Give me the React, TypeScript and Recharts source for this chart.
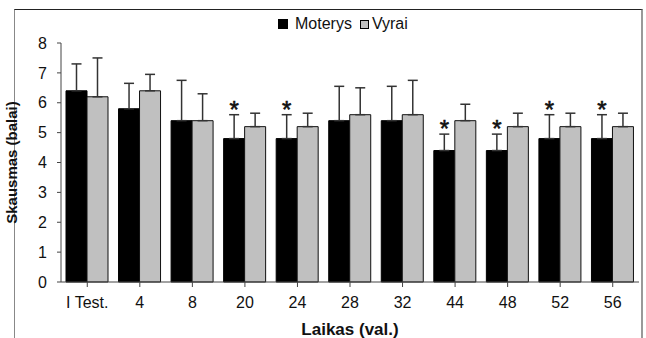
import { Bar, ComposedChart, ErrorBar, LabelList, Legend, XAxis, YAxis } from "recharts"

// Values
const categories = ["I Test.", "4", "8", "20", "24", "28", "32", "44", "48", "52", "56"]
const moterys = [6.4, 5.8, 5.4, 4.8, 4.8, 5.4, 5.4, 4.4, 4.4, 4.8, 4.8]
const moterysErr = [0.9, 0.85, 1.35, 0.8, 0.8, 1.15, 1.15, 0.55, 0.55, 0.8, 0.8]
const vyrai = [6.2, 6.4, 5.4, 5.2, 5.2, 5.6, 5.6, 5.4, 5.2, 5.2, 5.2]
const vyraiErr = [1.3, 0.55, 0.9, 0.45, 0.45, 0.9, 1.15, 0.55, 0.45, 0.45, 0.45]
// significant difference marker (*) over the Moterys bar
const significant = [false, false, false, true, true, false, false, true, true, true, true]
const yTicks = [0, 1, 2, 3, 4, 5, 6, 7, 8]

const data = categories.map((c, i) => ({
  name: c,
  moterys: moterys[i],
  moterysErr: [0, moterysErr[i]],
  vyrai: vyrai[i],
  vyraiErr: [0, vyraiErr[i]],
}))

const font = "'Liberation Sans', Arial, sans-serif"

// asterisk drawn just above the error bar cap
const Star = (props: any) => {
  const { x, y, width, height, index } = props
  if (!significant[index]) return null
  const perUnit = height / moterys[index]
  const top = y - moterysErr[index] * perUnit
  return (
    <text x={x + width / 2} y={top + 3} textAnchor="middle" fontSize={24} fontFamily={font} fill="#111" stroke="#111" strokeWidth={0.6}>
      *
    </text>
  )
}

const LegendBox = () => (
  <div style={{ display: "flex", alignItems: "center", fontFamily: font, fontSize: 16, color: "#111", height: 20, paddingLeft: 278 }}>
    <span style={{ width: 8, height: 8, background: "#000", border: "1px solid #000", marginRight: 7 }} />
    <span style={{ marginRight: 8 }}>Moterys</span>
    <span style={{ width: 7, height: 7, background: "#c0c0c0", border: "1px solid #000", marginRight: 3 }} />
    <span>Vyrai</span>
  </div>
)

export default function App() {
  return (
    <div style={{ position: "fixed", left: 0, top: 0, width: 646, height: 338, background: "#fff", overflow: "hidden" }}>
      <div
        style={{
          position: "absolute",
          left: 14,
          top: 9,
          width: 626,
          height: 340,
          borderTop: "1px solid #222",
          borderLeft: "1px solid #888",
          borderRight: "2px solid #999",
        }}
      />
      <ComposedChart
        width={646}
        height={338}
        data={data}
        margin={{ top: 23, right: 7, left: 0, bottom: 0 }}
        barGap={0}
        barCategoryGap={6}
        style={{ position: "absolute", left: 0, top: 0 }}
      >
        <Legend verticalAlign="top" height={20} content={<LegendBox />} wrapperStyle={{ top: 14, left: 0 }} />
        <XAxis
          dataKey="name"
          height={56}
          tickSize={5}
          tickMargin={10}
          stroke="#444"
          tick={{ fill: "#111", fontSize: 16, fontFamily: font }}
          interval={0}
          label={{ value: "Laikas (val.)", position: "insideBottom", offset: 3, fill: "#111", fontSize: 17, fontWeight: "bold", fontFamily: font }}
        />
        <YAxis
          width={61}
          domain={[0, 8]}
          ticks={yTicks}
          tickSize={4}
          tickMargin={10}
          stroke="#444"
          tick={{ fill: "#111", fontSize: 16, fontFamily: font }}
          label={{ value: "Skausmas (balai)", angle: -90, position: "insideLeft", offset: 12, style: { textAnchor: "middle" }, fill: "#111", fontSize: 15, fontWeight: "bold", fontFamily: font }}
        />
        <Bar dataKey="moterys" name="Moterys" fill="#000" stroke="#000" barSize={21} isAnimationActive={false}>
          <ErrorBar dataKey="moterysErr" direction="y" width={5} stroke="#333" strokeWidth={1.5} />
          <LabelList dataKey="moterys" content={Star} />
        </Bar>
        <Bar dataKey="vyrai" name="Vyrai" fill="#c0c0c0" stroke="#111" barSize={21} isAnimationActive={false}>
          <ErrorBar dataKey="vyraiErr" direction="y" width={5} stroke="#333" strokeWidth={1.5} />
        </Bar>
      </ComposedChart>
    </div>
  )
}
